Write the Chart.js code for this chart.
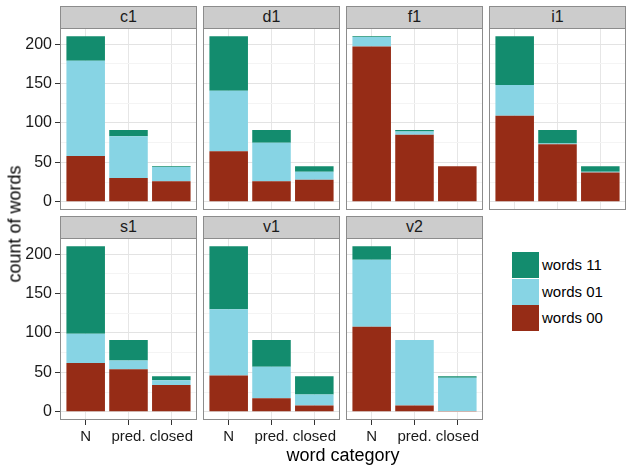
<!DOCTYPE html>
<html>
<head>
<meta charset="utf-8">
<script src="https://cdn.jsdelivr.net/npm/chart.js@4"></script>
<style>
  body { margin: 0; background: #fff; font-family: "Liberation Sans", Arial, sans-serif; }
  #wrap { position: relative; width: 632px; height: 471px; overflow: hidden; }
  .box { position: absolute; }
  .strip { position: absolute; background: #cccccc; border: 1px solid #8c8c8c; box-sizing: border-box;
           font-size: 16px; color: #1a1a1a; text-align: center; line-height: 20px; }
  .title { position: absolute; font-size: 18px; color: #000; white-space: nowrap; }
  .key { position: absolute; width: 27px; height: 26px; }
  .ktxt { position: absolute; font-size: 15px; color: #000; line-height: 26px; white-space: nowrap; }
</style>
</head>
<body>
<div id="wrap"></div>
<script>
// data
const panelNames = ['c1', 'd1', 'f1', 'i1', 's1', 'v1', 'v2'];
const categories = ['N', 'pred.', 'closed'];
const words00 = [[58, 30, 26], [64, 26, 28], [197, 85, 45], [109, 73, 37], [62, 54, 34], [46, 17, 8], [108, 8, 1]];
const words01 = [[121, 53, 18], [77, 49, 10], [12, 4, 0], [39, 1, 1], [37, 11, 6], [84, 40, 14], [85, 83, 42]];
const words11 = [[31, 8, 1], [69, 16, 7], [1, 2, 0], [62, 17, 7], [111, 26, 5], [80, 34, 23], [17, 0, 2]];
const yTicks = [0, 50, 100, 150, 200];
const seriesLabels = ['words 00', 'words 01', 'words 11'];
const seriesColors = ['#962c16', '#87d4e4', '#138c6e'];

const wrap = document.getElementById('wrap');
const colX = [60, 203, 346, 489];
const rowY = [28, 238];
const plotW = 137, plotH = 182, stripH = 22;
const yFont = { family: 'Liberation Sans', size: 16 };
const xFont = { family: 'Liberation Sans', size: 15 };

// minor grid halfway between labelled ticks
let yGrid = [];
yTicks.forEach((v, i) => {
    yGrid.push(v);
    if (i < yTicks.length - 1) yGrid.push((v + yTicks[i + 1]) / 2);
});

const borderPlugin = {
    id: 'panelBorder',
    afterDraw(chart) {
        const a = chart.chartArea;
        const ctx = chart.ctx;
        ctx.save();
        ctx.strokeStyle = '#8c8c8c';
        ctx.lineWidth = 1;
        ctx.strokeRect(Math.round(a.left) + 0.5, Math.round(a.top) + 0.5,
                       Math.round(a.right - a.left) - 1, Math.round(a.bottom - a.top) - 1);
        ctx.restore();
    }
};

panelNames.forEach((name, i) => {
    const row = i < 4 ? 0 : 1;
    const col = i % 4;
    const leftAxis = col === 0;
    const bottomAxis = row === 1;

    const strip = document.createElement('div');
    strip.className = 'strip';
    strip.style.left = colX[col] + 'px';
    strip.style.top = (rowY[row] - stripH) + 'px';
    strip.style.width = plotW + 'px';
    strip.style.height = (stripH + 1) + 'px';
    strip.textContent = name;
    wrap.appendChild(strip);

    const box = document.createElement('div');
    box.className = 'box';
    const axW = leftAxis ? 60 : 0;
    const axH = bottomAxis ? 32 : 0;
    box.style.left = (colX[col] - axW) + 'px';
    box.style.top = rowY[row] + 'px';
    box.style.width = (plotW + axW) + 'px';
    box.style.height = (plotH + axH) + 'px';
    const cv = document.createElement('canvas');
    box.appendChild(cv);
    wrap.appendChild(box);

    const sets = [words00[i], words01[i], words11[i]].map((vals, s) => ({
        label: seriesLabels[s],
        data: vals.map((v, k) => ({ x: k + 1, y: v })),
        backgroundColor: seriesColors[s],
        borderWidth: 0,
        barPercentage: 0.9,
        categoryPercentage: 1.0
    }));

    new Chart(cv, {
        type: 'bar',
        data: { datasets: sets },
        plugins: [borderPlugin],
        options: {
            responsive: true,
            maintainAspectRatio: false,
            animation: false,
            layout: { padding: 0 },
            plugins: { legend: { display: false }, tooltip: { enabled: false } },
            scales: {
                x: {
                    type: 'linear',
                    stacked: true,
                    offset: false,
                    min: 0.4,
                    max: 3.6,
                    afterBuildTicks: s => { s.ticks = categories.map((c, k) => ({ value: k + 1 })); },
                    ticks: {
                        display: bottomAxis,
                        autoSkip: false,
                        maxRotation: 0,
                        padding: 3,
                        font: xFont,
                        color: '#1a1a1a',
                        callback: v => categories[v - 1]
                    },
                    grid: { offset: false, color: '#e6e6e6', drawTicks: bottomAxis, tickLength: 5, tickColor: '#333' },
                    border: { display: false },
                    afterFit: s => { s.height = axH; s.paddingLeft = 0; s.paddingRight = 0; }
                },
                y: {
                    stacked: true,
                    min: -10.5,
                    max: 220.5,
                    afterBuildTicks: s => { s.ticks = yGrid.map(v => ({ value: v })); },
                    ticks: {
                        display: leftAxis,
                        autoSkip: false,
                        padding: 3,
                        font: yFont,
                        color: '#1a1a1a',
                        callback: v => yTicks.includes(v) ? v : ''
                    },
                    grid: {
                        color: c => yTicks.includes(c.tick.value) ? '#e3e3e3' : '#f4f4f4',
                        drawTicks: leftAxis,
                        tickLength: 5,
                        tickColor: c => yTicks.includes(c.tick.value) ? '#333' : 'rgba(0,0,0,0)'
                    },
                    border: { display: false },
                    afterFit: s => { s.width = axW; s.paddingTop = 0; s.paddingBottom = 0; }
                }
            }
        }
    });
});

// axis titles
const xt = document.createElement('div');
xt.className = 'title';
xt.textContent = 'word category';
xt.style.left = '343px';
xt.style.top = '455px';
xt.style.transform = 'translate(-50%, -50%)';
wrap.appendChild(xt);

const yt = document.createElement('div');
yt.className = 'title';
yt.textContent = 'count of words';
yt.style.left = '15px';
yt.style.top = '224px';
yt.style.transform = 'translate(-50%, -50%) rotate(-90deg)';
wrap.appendChild(yt);

// legend, top entry is the top of the stack
for (let s = 2; s >= 0; s--) {
    const pos = 2 - s;
    const key = document.createElement('div');
    key.className = 'key';
    key.style.left = '512px';
    key.style.top = (252 + pos * 26.7) + 'px';
    key.style.background = seriesColors[s];
    wrap.appendChild(key);
    const t = document.createElement('div');
    t.className = 'ktxt';
    t.style.left = '542px';
    t.style.top = (252 + pos * 26.7) + 'px';
    t.textContent = seriesLabels[s];
    wrap.appendChild(t);
}
</script>
</body>
</html>
